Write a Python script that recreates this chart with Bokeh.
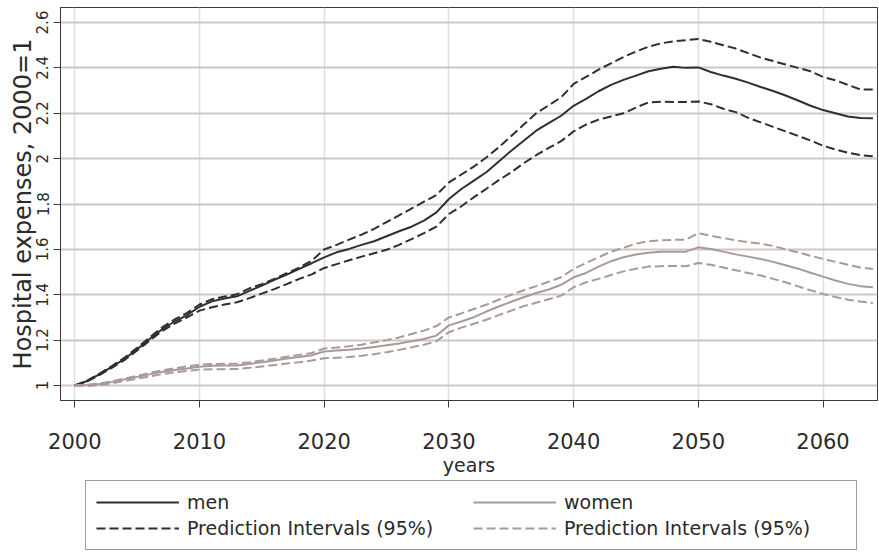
from bokeh.plotting import figure
from bokeh.models import Range1d, FixedTicker, Legend, LegendItem
from bokeh.layouts import column
from bokeh.embed import file_html
from bokeh.resources import INLINE

years = list(range(2000, 2065))

men = [1.000, 1.020, 1.050, 1.083, 1.118, 1.160, 1.205, 1.248, 1.282, 1.310,
       1.347, 1.371, 1.383, 1.393, 1.417, 1.440, 1.466, 1.489, 1.514, 1.539,
       1.565, 1.587, 1.602, 1.620, 1.636, 1.658, 1.680, 1.700, 1.727, 1.763,
       1.822, 1.866, 1.903, 1.940, 1.987, 2.035, 2.079, 2.123, 2.156, 2.189,
       2.233, 2.263, 2.297, 2.325, 2.347, 2.366, 2.385, 2.396, 2.405, 2.400,
       2.402, 2.382, 2.366, 2.352, 2.335, 2.316, 2.298, 2.278, 2.256, 2.233,
       2.214, 2.200, 2.186, 2.179, 2.178]

men_upper = [1.000, 1.022, 1.053, 1.087, 1.123, 1.166, 1.212, 1.256, 1.291, 1.320,
             1.357, 1.380, 1.392, 1.402, 1.428, 1.447, 1.470, 1.495, 1.520, 1.550,
             1.600, 1.620, 1.643, 1.665, 1.690, 1.720, 1.750, 1.780, 1.810, 1.840,
             1.895, 1.930, 1.965, 2.005, 2.050, 2.100, 2.150, 2.200, 2.235, 2.270,
             2.329, 2.360, 2.392, 2.420, 2.448, 2.472, 2.493, 2.508, 2.517, 2.522,
             2.527, 2.515, 2.500, 2.485, 2.465, 2.445, 2.430, 2.415, 2.400, 2.385,
             2.360, 2.345, 2.325, 2.305, 2.305]

men_lower = [1.000, 1.018, 1.047, 1.079, 1.113, 1.154, 1.198, 1.240, 1.273, 1.300,
             1.330, 1.345, 1.357, 1.367, 1.385, 1.405, 1.425, 1.447, 1.470, 1.490,
             1.518, 1.535, 1.552, 1.568, 1.583, 1.598, 1.620, 1.645, 1.672, 1.700,
             1.756, 1.790, 1.830, 1.867, 1.905, 1.940, 1.980, 2.015, 2.047, 2.077,
             2.120, 2.150, 2.172, 2.186, 2.200, 2.225, 2.248, 2.251, 2.250, 2.250,
             2.252, 2.240, 2.220, 2.205, 2.180, 2.160, 2.140, 2.120, 2.100, 2.080,
             2.057, 2.040, 2.026, 2.015, 2.010]

women = [1.000, 1.002, 1.007, 1.016, 1.027, 1.038, 1.049, 1.060, 1.068, 1.075,
         1.083, 1.087, 1.088, 1.088, 1.095, 1.103, 1.110, 1.119, 1.126, 1.133,
         1.150, 1.154, 1.158, 1.163, 1.170, 1.177, 1.185, 1.195, 1.205, 1.220,
         1.265, 1.282, 1.301, 1.326, 1.348, 1.369, 1.389, 1.408, 1.423, 1.444,
         1.477, 1.496, 1.524, 1.548, 1.565, 1.577, 1.585, 1.589, 1.590, 1.590,
         1.609, 1.602, 1.590, 1.578, 1.568, 1.558, 1.545, 1.530, 1.515, 1.497,
         1.480, 1.463, 1.448, 1.438, 1.433]

women_upper = [1.000, 1.003, 1.009, 1.019, 1.031, 1.043, 1.055, 1.067, 1.076, 1.084,
               1.092, 1.095, 1.096, 1.097, 1.103, 1.110, 1.118, 1.127, 1.135, 1.143,
               1.163, 1.167, 1.173, 1.180, 1.190, 1.200, 1.212, 1.227, 1.242, 1.262,
               1.300, 1.318, 1.337, 1.356, 1.378, 1.400, 1.420, 1.438, 1.457, 1.477,
               1.514, 1.540, 1.565, 1.590, 1.607, 1.625, 1.636, 1.640, 1.642, 1.643,
               1.671, 1.660, 1.650, 1.640, 1.632, 1.625, 1.615, 1.600, 1.587, 1.572,
               1.558, 1.545, 1.532, 1.520, 1.513]

women_lower = [1.000, 0.998, 1.002, 1.010, 1.020, 1.030, 1.040, 1.050, 1.058, 1.064,
               1.070, 1.072, 1.072, 1.073, 1.078, 1.084, 1.090, 1.097, 1.103, 1.110,
               1.120, 1.122, 1.126, 1.131, 1.138, 1.147, 1.157, 1.168, 1.180, 1.195,
               1.235, 1.255, 1.272, 1.290, 1.310, 1.330, 1.350, 1.365, 1.380, 1.396,
               1.433, 1.455, 1.470, 1.487, 1.503, 1.515, 1.524, 1.526, 1.527, 1.526,
               1.540, 1.532, 1.520, 1.508, 1.496, 1.485, 1.470, 1.455, 1.437, 1.420,
               1.404, 1.390, 1.378, 1.370, 1.363]

x_ticks = [2000, 2010, 2020, 2030, 2040, 2050, 2060]
y_ticks = [1.0, 1.2, 1.4, 1.6, 1.8, 2.0, 2.2, 2.4, 2.6]
y_tick_labels = ["1", "1.2", "1.4", "1.6", "1.8", "2", "2.2", "2.4", "2.6"]
legend_labels = ["men", "Prediction Intervals (95%)", "women", "Prediction Intervals (95%)"]

FONT = "DejaVu Sans"
TXT = "#2b2b2b"
MEN_C = "#2e2e33"
WOMEN_C = "#a89a98"
DASH = "9 4"

p = figure(width=879, height=480, output_backend="svg", toolbar_location=None,
           x_range=Range1d(1998.853, 2064.37), y_range=Range1d(0.9339, 2.6661),
           min_border_left=60, min_border_top=7, min_border_right=2, min_border_bottom=80,
           background_fill_color="white", border_fill_color="white")

p.outline_line_color = "#3a3a3a"
p.outline_line_width = 1

# grids
p.xgrid.ticker = FixedTicker(ticks=x_ticks)
p.ygrid.ticker = FixedTicker(ticks=y_ticks)
p.xgrid.grid_line_color = "#dedde6"
p.xgrid.grid_line_width = 1.5
p.ygrid.grid_line_color = "#cfc7c3"
p.ygrid.grid_line_width = 2

# x axis
xa = p.xaxis[0]
xa.ticker = FixedTicker(ticks=x_ticks)
xa.axis_label = "years"
xa.axis_label_text_font = FONT
xa.axis_label_text_font_size = "19px"
xa.axis_label_text_font_style = "normal"
xa.axis_label_text_color = TXT
xa.axis_label_standoff = 2
xa.major_label_text_font = FONT
xa.major_label_text_font_size = "21px"
xa.major_label_text_color = TXT
xa.major_label_standoff = 25
xa.major_tick_out = 7
xa.major_tick_in = 0
xa.minor_tick_line_color = None
xa.major_tick_line_color = "#3a3a3a"
xa.axis_line_color = "#3a3a3a"

# y axis
ya = p.yaxis[0]
ya.ticker = FixedTicker(ticks=y_ticks)
ya.major_label_overrides = {t: s for t, s in zip(y_ticks, y_tick_labels)}
ya.major_label_orientation = "vertical"
ya.axis_label = "Hospital expenses, 2000=1"
ya.axis_label_text_font = FONT
ya.axis_label_text_font_size = "24px"
ya.axis_label_text_font_style = "normal"
ya.axis_label_text_color = TXT
ya.axis_label_standoff = -3
ya.major_label_text_font = FONT
ya.major_label_text_font_size = "15px"
ya.major_label_text_color = TXT
ya.major_label_standoff = 5
ya.major_tick_out = 7
ya.major_tick_in = 0
ya.minor_tick_line_color = None
ya.major_tick_line_color = "#3a3a3a"
ya.axis_line_color = "#3a3a3a"

p.line(years, men, line_color=MEN_C, line_width=2)
p.line(years, men_upper, line_color=MEN_C, line_width=2, line_dash=DASH)
p.line(years, men_lower, line_color=MEN_C, line_width=2, line_dash=DASH)
p.line(years, women, line_color=WOMEN_C, line_width=2)
p.line(years, women_upper, line_color=WOMEN_C, line_width=2, line_dash=DASH)
p.line(years, women_lower, line_color=WOMEN_C, line_width=2, line_dash=DASH)

# legend strip below the plot (its ranges keep the key lines out of view)
lg = figure(width=879, height=74, output_backend="svg", toolbar_location=None,
            x_axis_type=None, y_axis_type=None,
            x_range=Range1d(0, 1), y_range=Range1d(0, 0.5),
            min_border_left=0, min_border_right=0, min_border_top=0, min_border_bottom=0,
            background_fill_color="white", border_fill_color="white")
lg.outline_line_color = None
lg.xgrid.visible = False
lg.ygrid.visible = False

k_men = lg.line(years, men, line_color=MEN_C, line_width=2)
k_men_pi = lg.line(years, men_upper, line_color=MEN_C, line_width=2, line_dash=DASH)
k_w = lg.line(years, women, line_color=WOMEN_C, line_width=2)
k_w_pi = lg.line(years, women_upper, line_color=WOMEN_C, line_width=2, line_dash=DASH)

legend = Legend(items=[
    LegendItem(label=legend_labels[0], renderers=[k_men]),
    LegendItem(label=legend_labels[1], renderers=[k_men_pi]),
    LegendItem(label=legend_labels[2], renderers=[k_w]),
    LegendItem(label=legend_labels[3], renderers=[k_w_pi]),
], orientation="vertical", ncols=2, location=(25, 4))
legend.label_text_font = FONT
legend.label_text_font_size = "19px"
legend.label_text_color = TXT
legend.glyph_width = 83
legend.glyph_height = 20
legend.label_standoff = 8
legend.label_width = 282
legend.spacing = 4
legend.padding = 10
legend.margin = 0
legend.border_line_color = "#3a3a3a"
legend.border_line_width = 1
legend.background_fill_color = "white"
legend.background_fill_alpha = 1
lg.add_layout(legend, "center")

layout = column(p, lg, spacing=0)
open("out.html", "w").write(file_html(layout, INLINE))
